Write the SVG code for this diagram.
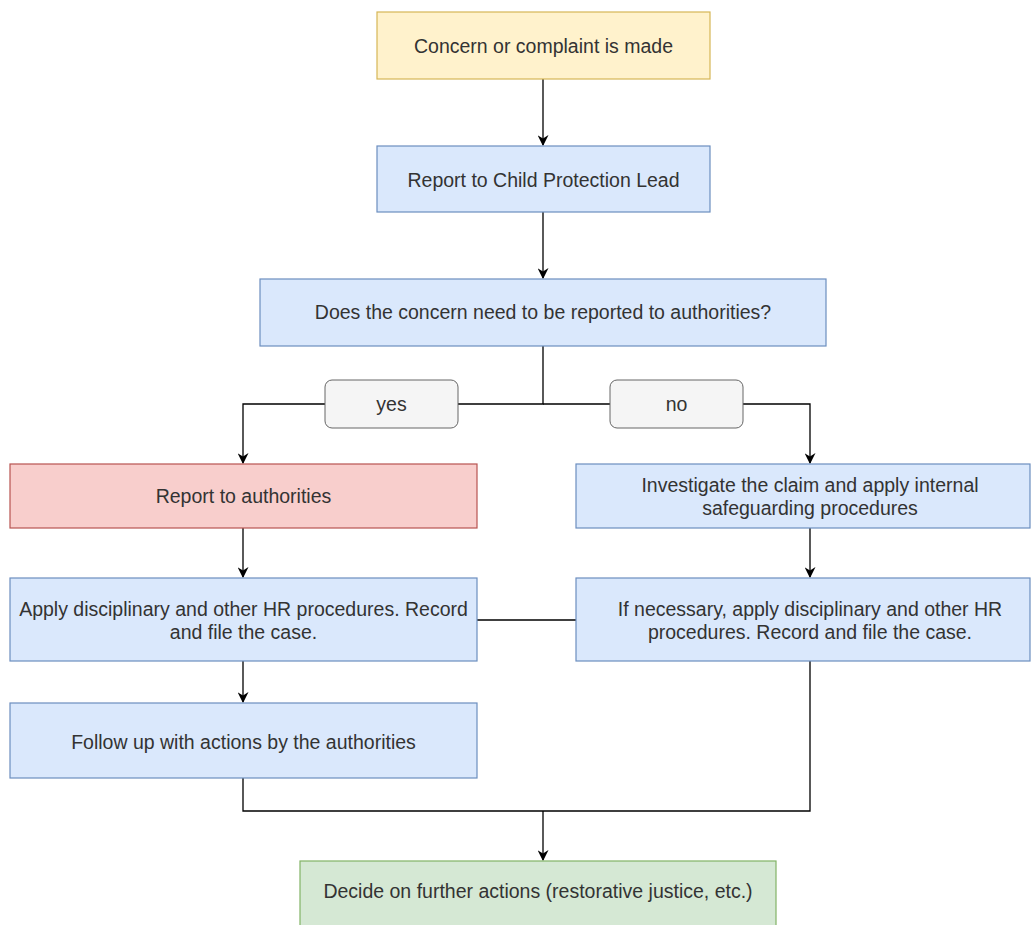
<svg xmlns="http://www.w3.org/2000/svg" width="1031" height="925" viewBox="0 0 1031 925">
<style>
  text { font-family: "Liberation Sans", Arial, sans-serif; font-size: 19.5px; fill: #333; text-anchor: middle; }
  .yellow { fill: #fff2cc; stroke: #d6b656; stroke-width: 1.2; }
  .blue { fill: #dae8fc; stroke: #6c8ebf; stroke-width: 1.2; }
  .red { fill: #f8cecc; stroke: #b85450; stroke-width: 1.2; }
  .green { fill: #d5e8d4; stroke: #82b366; stroke-width: 1.2; }
  .label { fill: #f5f5f5; stroke: #666; stroke-width: 1; }
  .edge { fill: none; stroke: #000; stroke-width: 1.3; }
</style>
<defs>
  <marker id="arr" viewBox="0 0 10 10" refX="9" refY="5" markerWidth="11" markerHeight="11" markerUnits="userSpaceOnUse" orient="auto">
    <path d="M0,0 L10,5 L0,10 L3,5 Z" fill="#000"/>
  </marker>
</defs>
<rect width="1031" height="925" fill="#fff"/>
<g id="connectors">
  <path class="edge" d="M543,79 V145" marker-end="url(#arr)"/>
  <path class="edge" d="M543,212 V278" marker-end="url(#arr)"/>
  <path class="edge" d="M543,346 V404 H243 V463" marker-end="url(#arr)"/>
  <path class="edge" d="M543,404 H810 V463" marker-end="url(#arr)"/>
  <path class="edge" d="M243,528 V577" marker-end="url(#arr)"/>
  <path class="edge" d="M810,528 V577" marker-end="url(#arr)"/>
  <path class="edge" d="M477,620 H576"/>
  <path class="edge" d="M243,661 V702" marker-end="url(#arr)"/>
  <path class="edge" d="M243,778 V811 H810 V661"/>
  <path class="edge" d="M543,811 V860" marker-end="url(#arr)"/>
</g>
<g id="label-yes">
  <rect class="label" x="325" y="380" width="133" height="48" rx="7"/>
  <text x="391.5" y="411">yes</text>
</g>
<g id="label-no">
  <rect class="label" x="610" y="380" width="133" height="48" rx="7"/>
  <text x="676.5" y="411">no</text>
</g>
<g id="n1">
  <rect class="yellow" x="377" y="12" width="333" height="67"/>
  <text x="543.5" y="53">Concern or complaint is made</text>
</g>
<g id="n2">
  <rect class="blue" x="377" y="146" width="333" height="66"/>
  <text x="543.5" y="187">Report to Child Protection Lead</text>
</g>
<g id="n3">
  <rect class="blue" x="260" y="279" width="566" height="67"/>
  <text x="543" y="319">Does the concern need to be reported to authorities?</text>
</g>
<g id="n4">
  <rect class="red" x="10" y="464" width="467" height="64"/>
  <text x="243.5" y="503">Report to authorities</text>
</g>
<g id="n5">
  <rect class="blue" x="576" y="464" width="454" height="64"/>
  <text x="810" y="492">Investigate the claim and apply internal</text>
  <text x="810" y="515">safeguarding procedures</text>
</g>
<g id="n6">
  <rect class="blue" x="10" y="578" width="467" height="83"/>
  <text x="243.5" y="616">Apply disciplinary and other HR procedures. Record</text>
  <text x="243.5" y="639">and file the case.</text>
</g>
<g id="n7">
  <rect class="blue" x="576" y="578" width="454" height="83"/>
  <text x="810" y="616">If necessary, apply disciplinary and other HR</text>
  <text x="810" y="639">procedures. Record and file the case.</text>
</g>
<g id="n8">
  <rect class="blue" x="10" y="703" width="467" height="75"/>
  <text x="243.5" y="749">Follow up with actions by the authorities</text>
</g>
<g id="n9">
  <rect class="green" x="300" y="861" width="476" height="80"/>
  <text x="538" y="898">Decide on further actions (restorative justice, etc.)</text>
</g>
</svg>
